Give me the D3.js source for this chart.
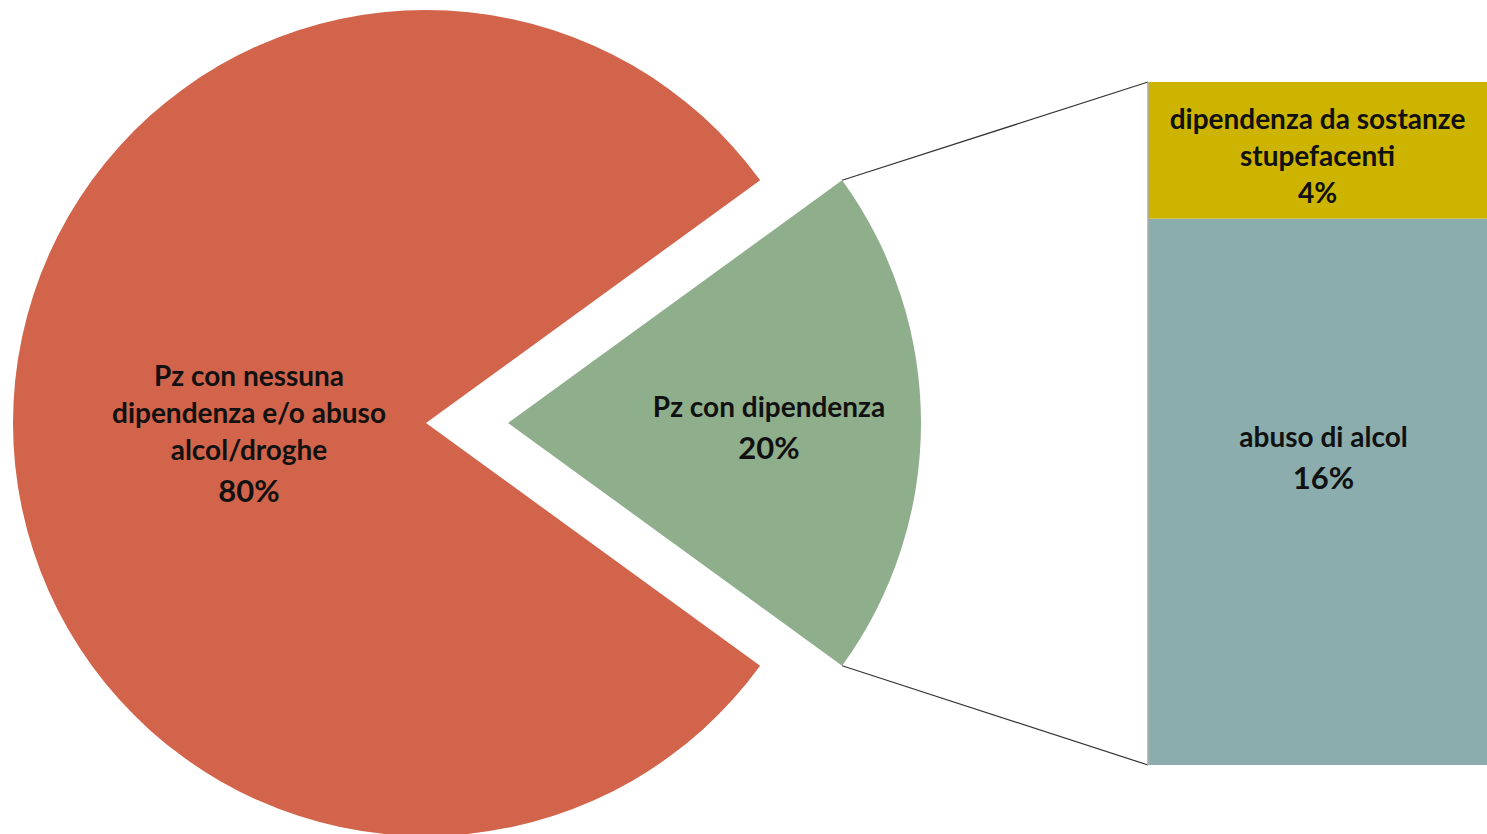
<!DOCTYPE html>
<html>
<head>
<meta charset="utf-8">
<script src="https://cdn.jsdelivr.net/npm/d3@7"></script>
<style>
  html, body { margin: 0; padding: 0; background: #fff; }
  svg { display: block; }
  text { font-family: Lato, "Open Sans", sans-serif; fill: #111; }
</style>
</head>
<body>
<svg id="chart" width="1487" height="834"></svg>
<script>
// Pie: patients with / without dependence
const pieCategories = ["Pz con dipendenza", "Pz con nessuna dipendenza e/o abuso alcol/droghe"];
const pieValues = [20, 80];
const pieLabelLines = [["Pz con dipendenza"], ["Pz con nessuna", "dipendenza e/o abuso", "alcol/droghe"]];
const pieColors = ["#8FAE8C", "#D1644A"];

// Bar: breakdown of the dependence slice (bottom to top)
const barCategories = ["abuso di alcol", "dipendenza da sostanze stupefacenti"];
const barValues = [16, 4];
const barLabelLines = [["abuso di alcol"], ["dipendenza da sostanze", "stupefacenti"]];
const barColors = ["#8BADAD", "#CDB400"];

const svg = d3.select("#chart");
const fmt = d3.format(".0%");

const cx = 426, cy = 423, R = 413;
const explode = 82;
const textSize = "28px", pctSize = "31px", lineH = 37;

// Rotate so the dependence slice is centred on the right-hand side
const sliceSpan = 2 * Math.PI * pieValues[0] / d3.sum(pieValues);
const start = Math.PI / 2 - sliceSpan / 2;
const pie = d3.pie().sort(null).startAngle(start).endAngle(start + 2 * Math.PI);
const arcs = pie(pieValues);
const arc = d3.arc().innerRadius(0).outerRadius(R);

const total = d3.sum(pieValues);

arcs.forEach((a, i) => {
  const mid = (a.startAngle + a.endAngle) / 2;
  const off = i === 0 ? explode : 0;
  const ox = cx + off * Math.sin(mid), oy = cy - off * Math.cos(mid);
  const g = svg.append("g").attr("transform", `translate(${ox},${oy})`);
  g.append("path").attr("d", arc(a)).attr("fill", pieColors[i]);

  // label position along the slice bisector
  const lr = i === 0 ? 261 : 177;
  const lx = lr * Math.sin(mid), ly = -lr * Math.cos(mid);
  const lines = pieLabelLines[i];
  const blockTop = i === 0 ? -6 : -37;
  const t = g.append("text").attr("text-anchor", "middle")
    .attr("transform", `translate(${lx},${ly + blockTop})`);
  lines.forEach((ln, k) => {
    t.append("tspan").attr("x", 0).attr("y", k * lineH)
      .style("font-size", textSize).style("font-weight", "bold").text(ln);
  });
  t.append("tspan").attr("x", 0).attr("y", lines.length * lineH + 5)
    .style("font-size", pctSize).style("font-weight", "bold")
    .text(fmt(pieValues[i] / total));
});

// Bar of the exploded slice
const barX0 = 1148, barX1 = 1487;
const y = d3.scaleLinear().domain([0, d3.sum(barValues)]).range([765, 82]);
const stacked = [];
let acc = 0;
barValues.forEach((v, i) => { stacked.push({ i, y0: acc, y1: acc + v, v }); acc += v; });

// connector lines from the slice corners to the bar
const g0 = arcs[0];
const mid0 = (g0.startAngle + g0.endAngle) / 2;
const sx = cx + explode * Math.sin(mid0), sy = cy - explode * Math.cos(mid0);
const corner = ang => [sx + R * Math.sin(ang), sy - R * Math.cos(ang)];
const cTop = corner(g0.startAngle), cBot = corner(g0.endAngle);
svg.append("line").attr("x1", cTop[0]).attr("y1", cTop[1])
  .attr("x2", barX0).attr("y2", y(d3.sum(barValues)))
  .attr("stroke", "#333").attr("stroke-width", 1.2);
svg.append("line").attr("x1", cBot[0]).attr("y1", cBot[1])
  .attr("x2", barX0).attr("y2", y(0))
  .attr("stroke", "#333").attr("stroke-width", 1.2);

const barTotal = d3.sum(barValues);
stacked.forEach(s => {
  svg.append("rect").attr("x", barX0).attr("width", barX1 - barX0)
    .attr("y", y(s.y1)).attr("height", y(s.y0) - y(s.y1))
    .attr("fill", barColors[s.i]);
});
svg.append("line").attr("x1", barX0).attr("x2", barX0)
  .attr("y1", y(barTotal)).attr("y2", y(0))
  .attr("stroke", "#aaa").attr("stroke-width", 1.5);

// bar labels
const barLabelPos = [{ dx: 6, top: 447 }, { dx: 0, top: 129 }];
stacked.forEach(s => {
  const lines = barLabelLines[s.i];
  const p = barLabelPos[s.i];
  const t = svg.append("text").attr("text-anchor", "middle")
    .attr("transform", `translate(${(barX0 + barX1) / 2 + p.dx},${p.top})`);
  lines.forEach((ln, k) => {
    t.append("tspan").attr("x", 0).attr("y", k * lineH)
      .style("font-size", textSize).style("font-weight", "bold").text(ln);
  });
  t.append("tspan").attr("x", 0).attr("y", lines.length * lineH + (s.i === 0 ? 5 : 0))
    .style("font-size", s.i === 0 ? pctSize : textSize).style("font-weight", "bold")
    .text(fmt(s.v / 100));
});
</script>
</body>
</html>
